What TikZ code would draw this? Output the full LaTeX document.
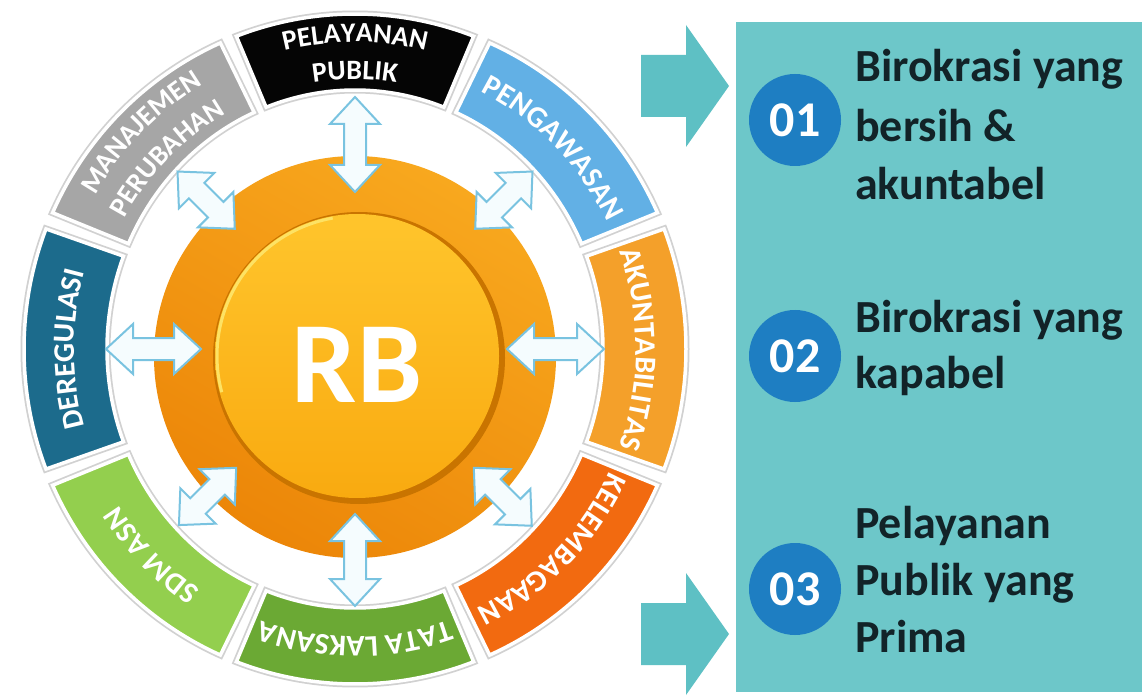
\documentclass[tikz,border=0pt]{standalone}
\usepackage{fontspec}
\setmainfont{Carlito}
\usetikzlibrary{decorations.text}
\definecolor{segblack}{HTML}{050505}
\definecolor{segblue}{HTML}{62B0E5}
\definecolor{segorange}{HTML}{F4A02A}
\definecolor{segred}{HTML}{F26A10}
\definecolor{seggreen}{HTML}{6BA934}
\definecolor{seglime}{HTML}{93CF4E}
\definecolor{segteal}{HTML}{1C6B8C}
\definecolor{seggray}{HTML}{A6A6A6}
\definecolor{panelteal}{HTML}{6DC7C9}
\definecolor{arrowteal}{HTML}{5EC0C4}
\definecolor{badgeblue}{HTML}{1E7EC2}
\definecolor{itemink}{HTML}{122328}
\definecolor{orangeA}{HTML}{F8A81E}
\definecolor{orangeB}{HTML}{EC8608}
\definecolor{yellowA}{HTML}{FFC52C}
\definecolor{yellowB}{HTML}{F9AA10}
\definecolor{rimdark}{HTML}{C97400}
\definecolor{dblline}{HTML}{79C3E0}
\newcommand\segfont{\fontsize{30}{32}\selectfont\bfseries\color{white}}
\newcommand\segfontb{\fontsize{28}{30}\selectfont\bfseries\color{white}}
\newcommand\segtext[5]{%
  \pgfmathsetmacro\tS{#1+40}\pgfmathsetmacro\tE{#1-40}%
  \path[decorate, decoration={text along path, text align=center, text={|#4|#5}}]
    (\tS:#2 and #3) arc[start angle=\tS, end angle=\tE, x radius=#2, y radius=#3];}
\tikzset{
  seghalo/.style={draw=black!18, line width=7},
  segborder/.style={draw=white, line width=3.5},
  dblarrow/.style={fill=white!90!cyan!40, draw=dblline, line width=2, line join=miter},
  badge/.style={circle, fill=badgeblue, minimum size=92, inner sep=0, text=white,
    font=\fontsize{50}{50}\selectfont\bfseries},
  itemtext/.style={anchor=base west, inner sep=0, text=itemink,
    font=\fontsize{46}{50}\selectfont\bfseries},
}
\begin{document}
\begin{tikzpicture}[x=1pt,y=1pt]
\useasboundingbox (0,0) rectangle (1142,697);
\fill[white] (0,0) rectangle (1142,697);

% ---------- ring of segments ----------
\begin{scope}[shift={(355,348)}]
\foreach \a/\col in {90/segblack,45/segblue,0/segorange,-45/segred,-90/seggreen,-135/seglime,180/segteal,135/seggray}{
  \pgfmathsetmacro\s{\a-21}\pgfmathsetmacro\e{\a+21}
  \path[seghalo] (\s:331 and 335) arc[start angle=\s, end angle=\e, x radius=331, y radius=335]
     -- (\e:248 and 259) arc[start angle=\e, end angle=\s, x radius=248, y radius=259] -- cycle;
  \path[fill=\col, segborder] (\s:331 and 335) arc[start angle=\s, end angle=\e, x radius=331, y radius=335]
     -- (\e:248 and 259) arc[start angle=\e, end angle=\s, x radius=248, y radius=259] -- cycle;
}
\segtext{90}{300}{307}{\segfontb}{PELAYANAN}
\segtext{90}{263}{270}{\segfontb}{PUBLIK}
\segtext{135}{300}{307}{\segfontb}{MANAJEMEN}
\segtext{135}{263}{270}{\segfontb}{PERUBAHAN}
\segtext{45}{281}{288}{\segfont}{PENGAWASAN}
\segtext{0}{281}{288}{\segfont}{AKUNTABILITAS}
\segtext{-45}{281}{288}{\segfont}{KELEMBAGAAN}
\segtext{-90}{281}{288}{\segfont}{TATA LAKSANA}
\segtext{-135}{281}{288}{\segfont}{SDM ASN}
\segtext{180}{281}{288}{\segfont}{DEREGULASI}
\end{scope}

% ---------- central orange disc ----------
\shade[top color=orangeA, bottom color=orangeB, shading angle=-30] (355,340) circle (201);
\fill[rimdark] (359,339) circle (146);
\shade[top color=yellowA, bottom color=yellowB] (357,341) circle (142);
\draw[yellow!70!orange!60, line width=3] (357,341) ++(100:140) arc[start angle=100, end angle=195, radius=140];
\node[inner sep=0, anchor=base, text=white, font=\fontsize{116}{116}\selectfont\bfseries] (rb) at (357,295) {RB};

% ---------- double arrows ----------
\begin{scope}[shift={(355,348)}]
\foreach \a/\ri/\ro in {90/157/252,-90/165/257,0/152/249,180/154/249,45/170/251,135/170/251,-135/168/249,-45/168/250}{
  \begin{scope}[rotate=\a]
  \path[dblarrow] (\ri,0) -- (\ri+27,25) -- (\ri+27,11) -- (\ro-27,11) -- (\ro-27,25) -- (\ro,0)
     -- (\ro-27,-25) -- (\ro-27,-11) -- (\ri+27,-11) -- (\ri+27,-25) -- cycle;
  \end{scope}
}
\end{scope}

% ---------- right panel ----------
\fill[panelteal] (736,5) rectangle (1143,675);
\fill[arrowteal] (641,642) -- (686,642) -- (686,672) -- (729,611) -- (686,550) -- (686,580) -- (641,580) -- cycle;
\fill[arrowteal] (641,94) -- (686,94) -- (686,124) -- (729,63) -- (686,2) -- (686,32) -- (641,32) -- cycle;

\node[badge] (b1) at (795,577) {01};
\node[badge] (b2) at (795,341) {02};
\node[badge] (b3) at (795,108) {03};

\node[itemtext] (t1a) at (855,615) {Birokrasi yang};
\node[itemtext] (t1b) at (855,555) {bersih \&};
\node[itemtext] (t1c) at (855,497) {akuntabel};
\node[itemtext] (t2a) at (855,365) {Birokrasi yang};
\node[itemtext] (t2b) at (855,309) {kapabel};
\node[itemtext] (t3a) at (855,159) {Pelayanan};
\node[itemtext] (t3b) at (855,102) {Publik yang};
\node[itemtext] (t3c) at (855,45) {Prima};
\end{tikzpicture}
\end{document}
